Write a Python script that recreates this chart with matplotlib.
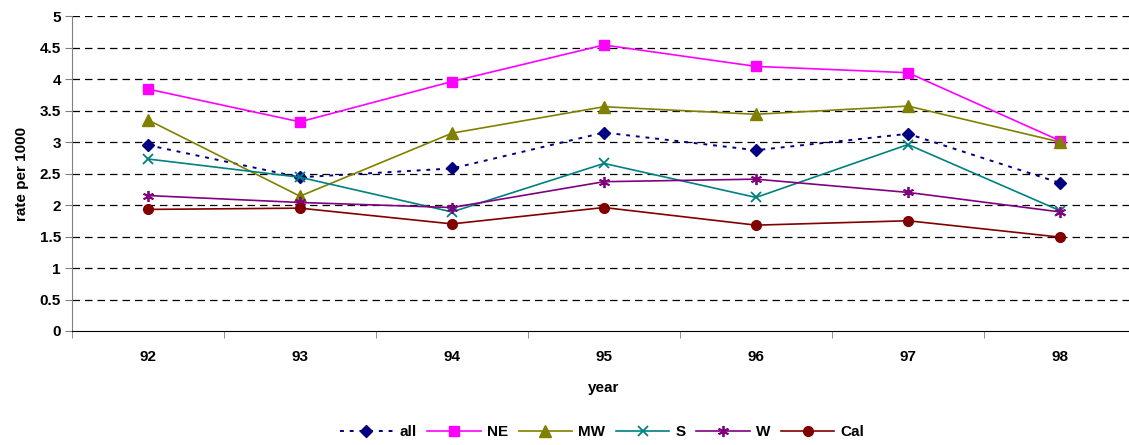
import matplotlib.pyplot as plt

plt.rcParams['font.family'] = ['Liberation Sans', 'DejaVu Sans']
plt.rcParams['font.weight'] = 'bold'

years = ['92', '93', '94', '95', '96', '97', '98']
all_rate = [2.95, 2.44, 2.58, 3.15, 2.87, 3.13, 2.35]
ne_rate = [3.84, 3.32, 3.96, 4.54, 4.20, 4.10, 3.02]
mw_rate = [3.35, 2.14, 3.14, 3.56, 3.44, 3.57, 3.00]
s_rate = [2.73, 2.44, 1.89, 2.66, 2.12, 2.96, 1.91]
w_rate = [2.15, 2.04, 1.96, 2.37, 2.41, 2.20, 1.89]
cal_rate = [1.93, 1.95, 1.70, 1.96, 1.68, 1.75, 1.49]

fig = plt.figure(figsize=(11.29, 4.45), dpi=100)
ax = fig.add_axes([72 / 1129, 114 / 445, 1064 / 1129, 315 / 445])

x = range(len(years))
ax.plot(x, all_rate, color='#000080', ls=(0, (2, 3)), lw=1.4, marker='D', ms=6, label='all')
ax.plot(x, ne_rate, color='#FF00FF', lw=1.2, marker='s', ms=7, label='NE')
ax.plot(x, mw_rate, color='#808000', lw=1.2, marker='^', ms=8, label='MW')
ax.plot(x, s_rate, color='#008080', lw=1.2, marker='x', ms=7, mew=1.3, label='S')
ax.plot(x, w_rate, color='#800080', lw=1.2, marker=(6, 2, 0), ms=8, mew=1.3, label='W')
ax.plot(x, cal_rate, color='#800000', lw=1.2, marker='o', ms=7, label='Cal')

ax.set_xlim(-0.5, 6.5)
ax.set_ylim(0, 5)
ax.set_yticks([i * 0.5 for i in range(11)])
ax.set_yticklabels(['0', '0.5', '1', '1.5', '2', '2.5', '3', '3.5', '4', '4.5', '5'])
ax.set_xticks(list(x))
ax.set_xticklabels(years)
ax.set_xticks([i - 0.5 for i in range(8)], minor=True)
ax.tick_params(axis='x', which='major', length=0, pad=14, labelsize=11)
ax.tick_params(axis='x', which='minor', length=5, color='#808080')
ax.tick_params(axis='y', length=5, labelsize=11, pad=3, color='#808080')

# dashed horizontal grid
for yv in [i * 0.5 for i in range(1, 11)]:
    ax.axhline(yv, color='black', lw=0.9, ls=(0, (6, 4)), zorder=0)

ax.spines['top'].set_visible(False)
ax.spines['right'].set_visible(False)
ax.spines['left'].set_color('#808080')
ax.spines['bottom'].set_color('black')

ax.set_ylabel('rate per 1000', fontsize=11, fontweight='bold', labelpad=8)
ax.set_xlabel('year', fontsize=11, fontweight='bold', labelpad=12)

fig.legend(loc='center', bbox_to_anchor=(602 / 1129, 1 - 432 / 445), ncol=6,
           frameon=False, fontsize=11, handlelength=3.5, handletextpad=0.4,
           columnspacing=0.7)

fig.savefig('out.png', dpi=100)
